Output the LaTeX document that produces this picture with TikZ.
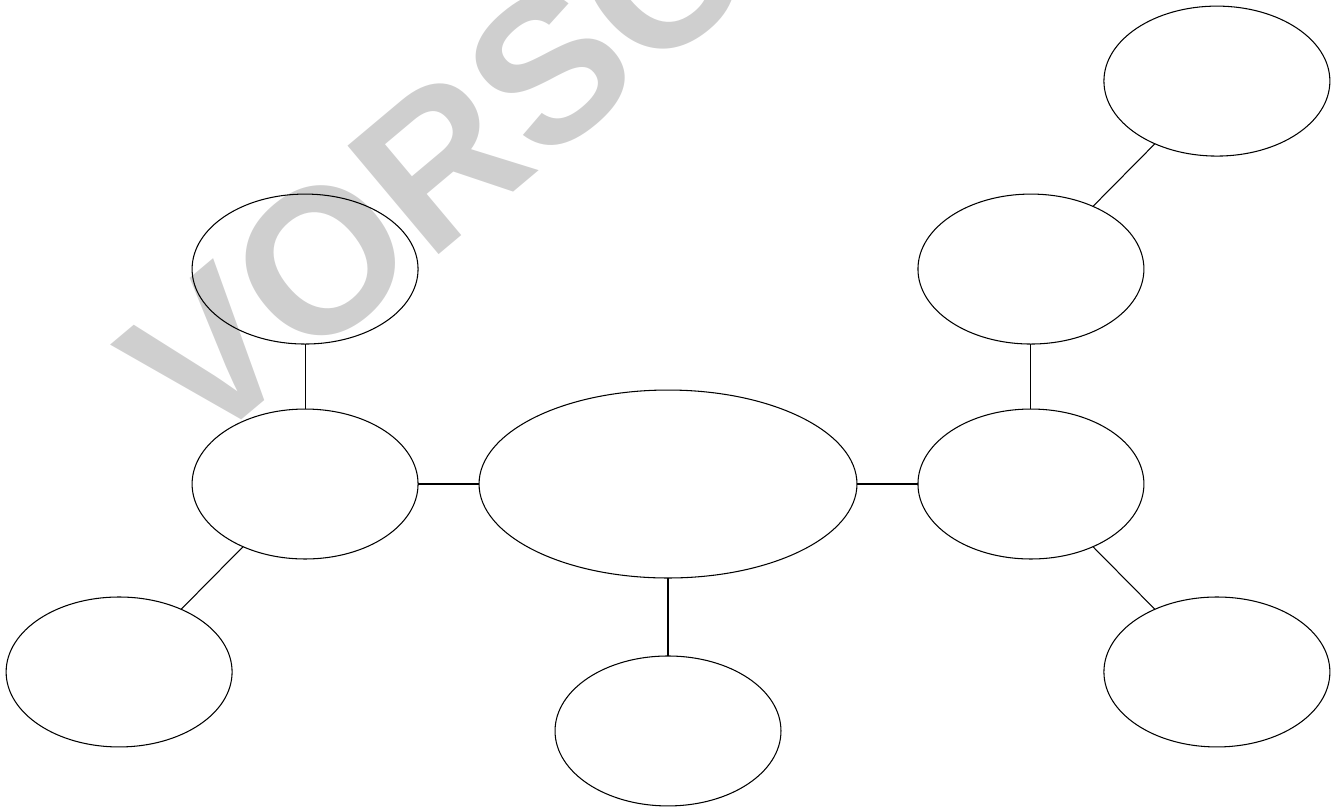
\documentclass[tikz,border=0pt]{standalone}
\usepackage{fontspec}
\usepackage{tikz}
\usetikzlibrary{positioning,shapes.geometric}
\newfontfamily\wmfont{Liberation Sans}
\definecolor{wmgray}{RGB}{207,207,207}
\tikzset{
  bub/.style={draw=black,ellipse,inner sep=0pt,outer sep=0pt,
    minimum width=4.52cm,minimum height=3cm},
  bubbig/.style={bub,minimum width=7.56cm,minimum height=3.76cm},
  wmark/.style={font=\wmfont\bfseries\fontsize{117.2pt}{120pt}\selectfont,
    text=wmgray,inner sep=0pt},
  link/.style={draw=black},
}
\begin{document}
\begin{tikzpicture}[x=0.02cm,y=-0.02cm,line width=0.6pt]
  \useasboundingbox (0,0) rectangle (1341,806);
  % watermark
  \node[wmark,anchor=base west,rotate=40] (wm) at (200,455) {VORSCHAU};
  % centre
  \node[bubbig] (core) at (668,484) {};
  % first ring
  \node[bub,left=1.22cm of core] (lft) {};
  \node[bub,right=1.22cm of core] (rgt) {};
  \node[bub,below=1.56cm of core] (bot) {};
  \node[bub,above=1.3cm of lft] (lftup) {};
  \node[bub,above=1.3cm of rgt] (rgtup) {};
  % outer bubbles
  \node[bub] at ([xshift=-3.72cm,yshift=-3.76cm]lft.center) (lftdown) {};
  \node[bub] at ([xshift=3.72cm,yshift=-3.76cm]rgt.center) (rgtdown) {};
  \node[bub] at ([xshift=3.72cm,yshift=3.76cm]rgtup.center) (rgttop) {};

  % links
  \draw[link] (lft) -- (core);
  \draw[link] (core) -- (rgt);
  \draw[link] (core) -- (bot);
  \draw[link] (lft) -- (lftup);
  \draw[link] (lft) -- (lftdown);
  \draw[link] (rgt) -- (rgtup);
  \draw[link] (rgt) -- (rgtdown);
  \draw[link] (rgtup) -- (rgttop);
\end{tikzpicture}
\end{document}
